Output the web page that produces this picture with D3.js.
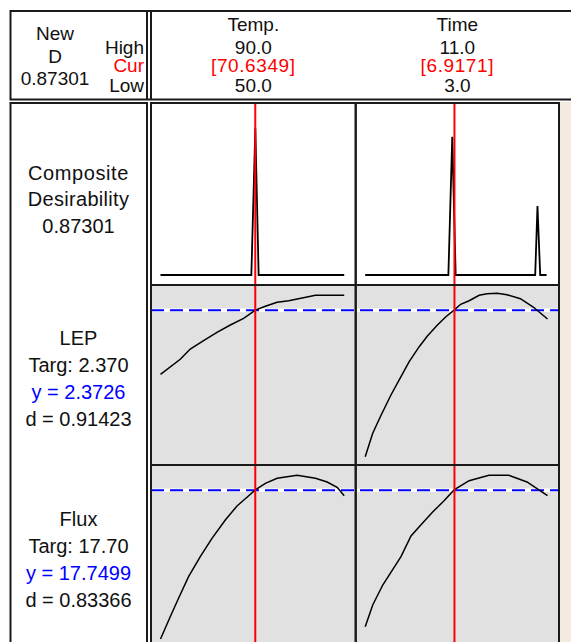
<!DOCTYPE html>
<html>
<head>
<meta charset="utf-8">
<script src="https://cdn.jsdelivr.net/npm/d3@7"></script>
<style>
  body { margin: 0; background: #fff; }
  text { font-family: "Liberation Sans", Arial, sans-serif; font-size: 20px; fill: #111; }
  .hdr { font-size: 19px; }
</style>
</head>
<body>
<svg width="571" height="642"></svg>
<script>
// factor settings
const factors = ["Temp.", "Time"];
const factorHigh = [90.0, 11.0];
const factorLow = [50.0, 3.0];
const factorCur = [70.6349, 6.9171];

// responses
const compositeD = 0.87301;
const responses = ["LEP", "Flux"];
const targets = [2.370, 17.70];
const predicted = [2.3726, 17.7499];
const respD = [0.91423, 0.83366];

// composite desirability traces
const compTemp = [[50, 0], [69.78, 0], [70.65, 0.873], [71.37, 0], [90, 0]];
const compTime = [[3, 0], [6.65, 0], [6.82, 0.823], [6.97, 0], [10.46, 0], [10.56, 0.41], [10.68, 0], [10.96, 0]];

// LEP traces
const lepTemp = [[50, 1.73], [54.3, 1.88], [56.48, 1.983], [59.38, 2.066], [62.3, 2.15], [65.2, 2.223],
  [68.1, 2.29], [70.65, 2.372], [72.83, 2.41], [75.39, 2.45], [77.92, 2.466], [80.84, 2.493], [83.74, 2.52], [90, 2.52]];
const lepTime = [[3, 0.906], [3.33, 1.14], [3.7, 1.323], [4.13, 1.523], [4.57, 1.706], [4.93, 1.856],
  [5.37, 2.006], [5.73, 2.113], [6.17, 2.223], [6.54, 2.306], [6.9, 2.372], [7.19, 2.43], [7.56, 2.466],
  [8.0, 2.52], [8.35, 2.536], [8.79, 2.54], [9.22, 2.526], [9.81, 2.486], [10.39, 2.40], [11.0, 2.283]];

// Flux traces
const fluxTemp = [[50, 10.265], [52.12, 11.38], [53.93, 12.3], [56.11, 13.38], [58.66, 14.38], [61.21, 15.3],
  [64.11, 16.215], [66.66, 16.915], [68.84, 17.35], [70.65, 17.72], [72.83, 18.05], [75.39, 18.3],
  [79.75, 18.45], [83.74, 18.3], [86.29, 18.115], [88.47, 17.85], [90, 17.43]];
const fluxTime = [[3, 10.88], [3.33, 11.965], [3.77, 12.965], [4.57, 14.38], [5.01, 15.415], [5.44, 15.965],
  [5.95, 16.6], [6.46, 17.18], [6.9, 17.72], [7.56, 18.18], [8.43, 18.45], [9.3, 18.45], [10.1, 18.115], [11.0, 17.43]];

const svg = d3.select('svg');
const ink = "#1a1a1a";

const colX = [151, 355.7, 559];
const rowY = [103, 285, 465, 645];

// beige strip on the right
svg.append("rect").attr("x", 560).attr("y", 102).attr("width", 20).attr("height", 560).attr("fill", "#f3ebe0");

// panel backgrounds
[0, 1, 2].forEach(r => {
  svg.append("rect")
    .attr("x", colX[0]).attr("y", rowY[r])
    .attr("width", colX[2] - colX[0]).attr("height", rowY[r + 1] - rowY[r])
    .attr("fill", r == 0 ? "#fff" : "#e1e1e1");
});

const xScales = factors.map((f, i) => d3.scaleLinear()
  .domain([factorLow[i], factorHigh[i]])
  .range([colX[i] + 9.5, colX[i + 1] - 11.5]));

const traces = [[compTemp, compTime], [lepTemp, lepTime], [fluxTemp, fluxTime]];

const yScales = [
  d3.scaleLinear().domain([0, 1]).range([rowY[1] - 10, rowY[0] + 4]),
  d3.scaleLinear().domain(d3.extent(lepTemp.concat(lepTime), d => d[1])).range([rowY[2] - 8.3, rowY[1] + 8.3]),
  d3.scaleLinear().domain(d3.extent(fluxTemp.concat(fluxTime), d => d[1])).range([rowY[3] - 6, rowY[2] + 10.3])
];

// target lines
targets.forEach((t, i) => {
  const y = yScales[i + 1](t);
  svg.append("line").attr("x1", colX[0]).attr("x2", colX[2]).attr("y1", y).attr("y2", y)
    .attr("stroke", "#fff").attr("stroke-width", 3.5);
  svg.append("line").attr("x1", colX[0]).attr("x2", colX[2]).attr("y1", y).attr("y2", y)
    .attr("stroke", "#0000ff").attr("stroke-width", 2).attr("stroke-dasharray", "13,6");
});

// curves
traces.forEach((row, r) => {
  row.forEach((data, c) => {
    const line = d3.line().x(d => xScales[c](d[0])).y(d => yScales[r](d[1]));
    svg.append("path").datum(data)
      .attr("d", line)
      .attr("fill", "none")
      .attr("stroke", "#000")
      .attr("stroke-width", r == 0 ? 1.8 : 1.5);
  });
});

// current setting lines
factorCur.forEach((v, i) => {
  const x = xScales[i](v);
  svg.append("line").attr("x1", x).attr("x2", x).attr("y1", rowY[0]).attr("y2", 642)
    .attr("stroke", "#ff0000").attr("stroke-width", 2);
});

// panel borders
[0, 1, 2].forEach(r => {
  [0, 1].forEach(c => {
    svg.append("rect")
      .attr("x", colX[c]).attr("y", rowY[r])
      .attr("width", colX[c + 1] - colX[c]).attr("height", rowY[r + 1] - rowY[r])
      .attr("fill", "none").attr("stroke", ink).attr("stroke-width", 2);
  });
});

// left label box
svg.append("rect").attr("x", 10.5).attr("y", rowY[0]).attr("width", 147 - 10.5).attr("height", 560)
  .attr("fill", "none").attr("stroke", ink).attr("stroke-width", 2);

// header box
svg.append("rect").attr("x", 10.5).attr("y", 11).attr("width", 580).attr("height", 88.5)
  .attr("fill", "none").attr("stroke", ink).attr("stroke-width", 2);
[147, 151].forEach(x => {
  svg.append("line").attr("x1", x).attr("x2", x).attr("y1", 11).attr("y2", 99.5)
    .attr("stroke", ink).attr("stroke-width", 2);
});

function label(x, y, txt, color, anchor, cls) {
  const t = svg.append("text").attr("x", x).attr("y", y)
    .attr("text-anchor", anchor || "middle")
    .text(txt);
  if (color) t.style("fill", color);
  if (cls) t.attr("class", cls);
  return t;
}

// header text
label(55, 39.5, "New", null, null, "hdr");
label(55, 62.5, "D", null, null, "hdr");
label(55, 85, compositeD.toFixed(5), null, null, "hdr");
label(144, 53.5, "High", null, "end", "hdr");
label(144, 71.5, "Cur", "#ff0000", "end", "hdr");
label(144, 91.5, "Low", null, "end", "hdr");

factors.forEach((f, i) => {
  const cx = (colX[i] + colX[i + 1]) / 2;
  label(cx, 30.5, f, null, null, "hdr");
  label(cx, 53.5, factorHigh[i].toFixed(1), null, null, "hdr");
  label(cx, 71.5, "[" + factorCur[i].toFixed(4) + "]", "#ff0000", null, "hdr").attr("letter-spacing", 0.6);
  label(cx, 91.5, factorLow[i].toFixed(1), null, null, "hdr");
});

// row labels
const lx = 78.5;
label(lx, 180, "Composite").attr("letter-spacing", 0.6);
label(lx, 206, "Desirability").attr("letter-spacing", 0.3);
label(lx, 233, compositeD.toFixed(5));

const respBase = [345, 526];
responses.forEach((r, i) => {
  const b = respBase[i];
  label(lx, b, r);
  label(lx, b + 27, "Targ: " + targets[i].toFixed(i == 0 ? 3 : 2));
  label(lx, b + 54, "y = " + predicted[i].toFixed(4), "#0000ff");
  label(lx, b + 81, "d = " + respD[i].toFixed(5));
});
</script>
</body>
</html>
